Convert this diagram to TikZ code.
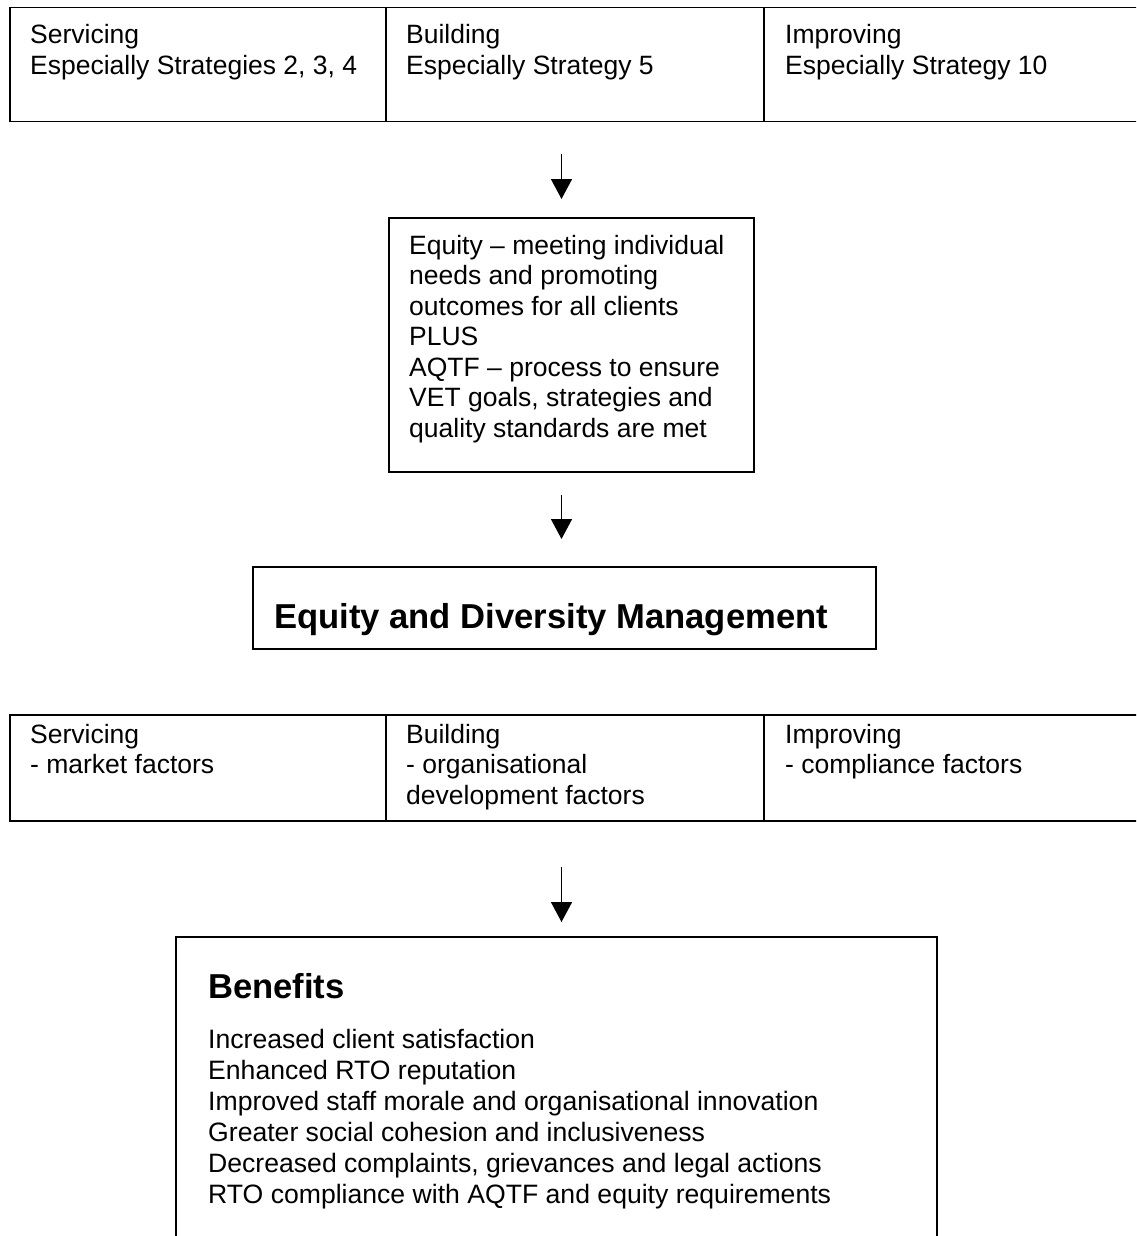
\documentclass[tikz,border=0pt]{standalone}
\usepackage{fontspec}
\setmainfont{Liberation Sans}
\usetikzlibrary{arrows.meta}
\newcommand{\mylines}[1]{\begin{tabular}[t]{@{}l@{}}#1\end{tabular}}
\begin{document}
\begin{tikzpicture}[x=1pt,y=1pt,
  box/.style={draw, line width=1.5pt, inner sep=0pt, anchor=north west},
  txt/.style={anchor=base west, inner sep=0pt, font=\fontsize{26.5}{30.5}\selectfont},
  bigtxt/.style={anchor=base west, inner sep=0pt, font=\fontsize{34.6}{40}\selectfont\bfseries},
  listtxt/.style={anchor=base west, inner sep=0pt, font=\fontsize{26.6}{31}\selectfont},
  arr/.style={-{Triangle[width=21pt,length=20pt]}, line width=1.5pt}]
\path[use as bounding box, clip] (0,0) rectangle (1136,-1236);
% top table
\node[box, minimum width=376pt, minimum height=114pt] (t1) at (9,-7) {};
\node[box, minimum width=378pt, minimum height=114pt] (t2) at (385,-7) {};
\node[box, minimum width=400pt, minimum height=114pt] (t3) at (763,-7) {};
\node[txt] (t1x) at (30,-44) {\mylines{Servicing\\Especially Strategies 2, 3, 4}};
\node[txt] (t2x) at (406,-44) {\mylines{Building\\Especially Strategy 5}};
\node[txt] (t3x) at (785,-44) {\mylines{Improving\\Especially Strategy 10}};
% equity box
\node[box, minimum width=365pt, minimum height=254pt] (eq) at (388,-217) {};
\node[txt] (eqx) at (409,-254) {\mylines{Equity -- meeting individual\\needs and promoting\\outcomes for all clients\\PLUS\\AQTF -- process to ensure\\VET goals, strategies and\\quality standards are met}};
% EDM box
\node[box, minimum width=623pt, minimum height=82pt] (edm) at (252,-566) {};
\node[bigtxt] (edmx) at (274,-628) {Equity and Diversity Management};
% bottom table
\node[box, minimum width=376pt, minimum height=106pt] (b1) at (9,-714) {};
\node[box, minimum width=378pt, minimum height=106pt] (b2) at (385,-714) {};
\node[box, minimum width=400pt, minimum height=106pt] (b3) at (763,-714) {};
\node[txt] (b1x) at (30,-743) {\mylines{Servicing\\- market factors}};
\node[txt] (b2x) at (406,-743) {\mylines{Building\\- organisational\\development factors}};
\node[txt] (b3x) at (785,-743) {\mylines{Improving\\- compliance factors}};
% benefits box (open at bottom, clipped)
\node[box, minimum width=761pt, minimum height=330pt] (ben) at (175,-936) {};
\node[bigtxt] (benh) at (208,-998) {Benefits};
\node[listtxt] (benl) at (208,-1048) {\mylines{Increased client satisfaction\\Enhanced RTO reputation\\Improved staff morale and organisational innovation\\Greater social cohesion and inclusiveness\\Decreased complaints, grievances and legal actions\\RTO compliance with AQTF and equity requirements}};
% arrows
\coordinate (ax) at (561.5,0);
\draw[arr, shorten <=31pt, shorten >=18pt] (t2.south -| ax) -- (eq.north -| ax);
\draw[arr, shorten <=22pt, shorten >=27pt] (eq.south -| ax) -- (edm.north -| ax);
\draw[arr, shorten <=45pt, shorten >=14pt] (b2.south -| ax) -- (ben.north -| ax);
\end{tikzpicture}
\end{document}
